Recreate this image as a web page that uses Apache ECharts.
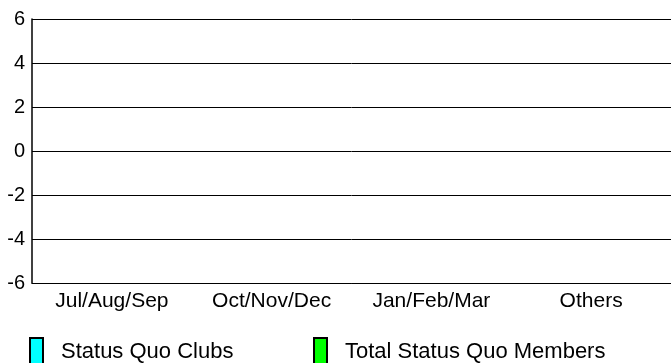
<!DOCTYPE html>
<html>
<head>
<meta charset="utf-8">
<script src="https://cdn.jsdelivr.net/npm/echarts@6/dist/echarts.min.js"></script>
<style>
  html, body { margin: 0; padding: 0; background: #fff; }
  #chart { width: 671px; height: 363px; }
</style>
</head>
<body>
<div id="chart"></div>
<script>
// categories and values (all bars at zero)
const categories = ['Jul/Aug/Sep', 'Oct/Nov/Dec', 'Jan/Feb/Mar', 'Others']
const clubs = [0, 0, 0, 0]
const members = [0, 0, 0, 0]
const seriesNames = ['Status Quo Clubs', 'Total Status Quo Members']

const chart = echarts.init(document.getElementById('chart'))

const legendBase = {
  top: 337,
  itemWidth: 13,
  itemHeight: 28,
  icon: 'rect',
  padding: 0,
  textStyle: { fontFamily: 'Liberation Sans, Arial', fontSize: 22, color: '#000', padding: [0, 0, 0, 13] },
  itemStyle: { borderColor: '#000', borderWidth: 2 }
}

chart.setOption({
  animation: false,
  textStyle: { fontFamily: 'Liberation Sans, Arial' },
  grid: { left: 32, right: 0, top: 19, bottom: 80 },
  legend: [
    Object.assign({}, legendBase, { left: 29, data: [seriesNames[0]] }),
    Object.assign({}, legendBase, { left: 313, data: [seriesNames[1]] })
  ],
  xAxis: {
    type: 'category',
    data: categories,
    boundaryGap: true,
    axisLine: { onZero: false, lineStyle: { color: '#000', width: 1 } },
    axisTick: { show: false },
    axisLabel: { color: '#000', fontSize: 21, margin: 8 }
  },
  yAxis: {
    type: 'value',
    min: -6,
    max: 6,
    interval: 2,
    axisLine: { show: true, lineStyle: { color: '#000', width: 1.5 } },
    axisTick: { show: false },
    axisLabel: { color: '#000', fontSize: 20, margin: 7 },
    splitLine: { lineStyle: { color: '#000', width: 1 } }
  },
  series: [
    { name: seriesNames[0], type: 'bar', data: clubs, itemStyle: { color: '#00ffff' } },
    { name: seriesNames[1], type: 'bar', data: members, itemStyle: { color: '#00ff00' } }
  ]
})
</script>
</body>
</html>
